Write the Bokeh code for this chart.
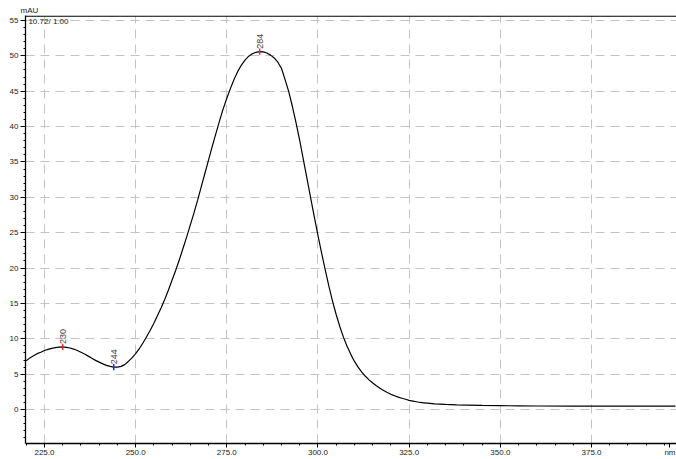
import math
from bokeh.plotting import figure
from bokeh.models import (ColumnDataSource, FixedTicker, PrintfTickFormatter,
                          Label, Range1d, Span)
from bokeh.core.properties import value
from bokeh.embed import file_html
from bokeh.resources import INLINE

# ---- data ----
wavelength = list(range(220, 331)) + [332, 335, 338, 341, 345, 350, 355, 360,
                                      370, 380, 390, 398]
absorbance = [
    6.9, 7.3, 7.6, 7.9, 8.1, 8.35, 8.5, 8.65, 8.75, 8.82,          # 220-229
    8.85, 8.8, 8.7, 8.55, 8.35, 8.1, 7.85, 7.55, 7.25, 6.95,       # 230-239
    6.7, 6.45, 6.25, 6.1, 6.0, 6.0, 6.1, 6.35, 6.8, 7.3,           # 240-249
    7.9, 8.6, 9.4, 10.3, 11.2, 12.2, 13.3, 14.4, 15.6, 16.9,       # 250-259
    18.3, 19.7, 21.2, 22.8, 24.4, 26.1, 27.8, 29.6, 31.5, 33.4,    # 260-269
    35.3, 37.2, 39.0, 40.8, 42.5, 44.0, 45.4, 46.7, 47.8, 48.7,    # 270-279
    49.4, 49.95, 50.3, 50.5, 50.6, 50.55, 50.4, 50.1, 49.7, 49.1,  # 280-289
    48.2, 46.6, 44.9, 42.8, 40.5, 38.0, 35.3, 32.6, 29.9, 27.2,    # 290-299
    24.6, 22.1, 19.7, 17.4, 15.3, 13.4, 11.7, 10.2, 8.9, 7.8,      # 300-309
    6.8, 6.0, 5.3, 4.7, 4.2, 3.75, 3.35, 3.0, 2.7, 2.4,            # 310-319
    2.15, 1.95, 1.75, 1.6, 1.45, 1.3, 1.2, 1.1, 1.0, 0.95,         # 320-329
    0.9,                                                           # 330
    0.8, 0.72, 0.66, 0.62, 0.58, 0.55, 0.52, 0.5, 0.48, 0.48, 0.47, 0.47,
]

peak_wl = [230, 244, 284]
peak_abs = [8.85, 6.0, 50.6]
peak_labels = ["230", "244", "284"]

x_ticks = [225, 250, 275, 300, 325, 350, 375]
x_unit = "nm"
y_ticks = [0, 5, 10, 15, 20, 25, 30, 35, 40, 45, 50, 55]
y_unit = "mAU"
info_text = "10.72/ 1.00"

FONT = "Liberation Sans"
UNIT_POS = 396.5  # where the x unit text sits along the x axis

p = figure(width=676, height=459, output_backend="svg", toolbar_location=None,
           x_range=Range1d(219.8, 398.3), y_range=Range1d(-4.8, 55.7),
           min_border_left=25, min_border_right=0, min_border_top=15,
           min_border_bottom=16)
p.outline_line_color = None
p.background_fill_color = "white"
p.border_fill_color = "white"

# unit label above the y axis
p.title.text = y_unit
p.title.align = "left"
p.title.offset = -5
p.title.standoff = 2
p.title.text_font = FONT
p.title.text_font_size = "8px"
p.title.text_font_style = "normal"
p.title.text_color = "#222222"

# axes
xa = p.xaxis[0]
xa.ticker = FixedTicker(ticks=x_ticks + [UNIT_POS],
                        minor_ticks=[t for t in range(220, 400, 5)])
xa.formatter = PrintfTickFormatter(format="%.1f")
xa.major_label_overrides = {UNIT_POS: x_unit}
ya = p.yaxis[0]
ya.ticker = FixedTicker(ticks=y_ticks, minor_ticks=list(range(-4, 56)))
for ax in (xa, ya):
    ax.axis_line_color = "black"
    ax.axis_line_width = 1.3
    ax.major_tick_line_color = "black"
    ax.minor_tick_line_color = "black"
    ax.major_tick_in = 0
    ax.minor_tick_in = 0
    ax.minor_tick_out = 2
    ax.major_label_text_font = FONT
    ax.major_label_text_font_size = "8px"
    ax.major_label_text_color = "#222222"
xa.major_tick_out = 4
xa.major_label_standoff = 0
ya.major_tick_out = 5
ya.major_label_standoff = 2

# top frame line
p.add_layout(Span(location=55.62, dimension="width", line_color="black",
                  line_width=1.3))

# grid (only at the numeric ticks)
p.xgrid[0].ticker = FixedTicker(ticks=x_ticks)
for g in (p.xgrid[0], p.ygrid[0]):
    g.grid_line_color = "#c4c4c4"
    g.grid_line_dash = "9 6"
    g.grid_line_width = 1

# curve
src = ColumnDataSource(dict(x=wavelength, y=absorbance))
p.line("x", "y", source=src, line_color="black", line_width=1.2)

# peak markers
peak_colors = ["#e03030", "#2030d0", "#e03030"]
psrc = ColumnDataSource(dict(x=peak_wl, y=peak_abs, t=peak_labels,
                             c=peak_colors,
                             y0=[v - 0.45 for v in peak_abs],
                             y1=[v + 0.45 for v in peak_abs],
                             ty=[v + 0.4 for v in peak_abs]))
p.segment(x0="x", y0="y0", x1="x", y1="y1", source=psrc, line_color="c",
          line_width=1.5)
p.text(x="x", y="ty", text="t", source=psrc, angle=math.pi / 2,
       text_align="left", text_baseline="middle", text_font=value(FONT),
       text_font_size="9px", text_color="#444444")

# info text in the top-left corner
p.add_layout(Label(x=220.6, y=55.5, text=info_text, text_font=FONT,
                   text_font_size="8px", text_baseline="top",
                   text_color="#222222"))

open("out.html", "w").write(file_html(p, INLINE))
